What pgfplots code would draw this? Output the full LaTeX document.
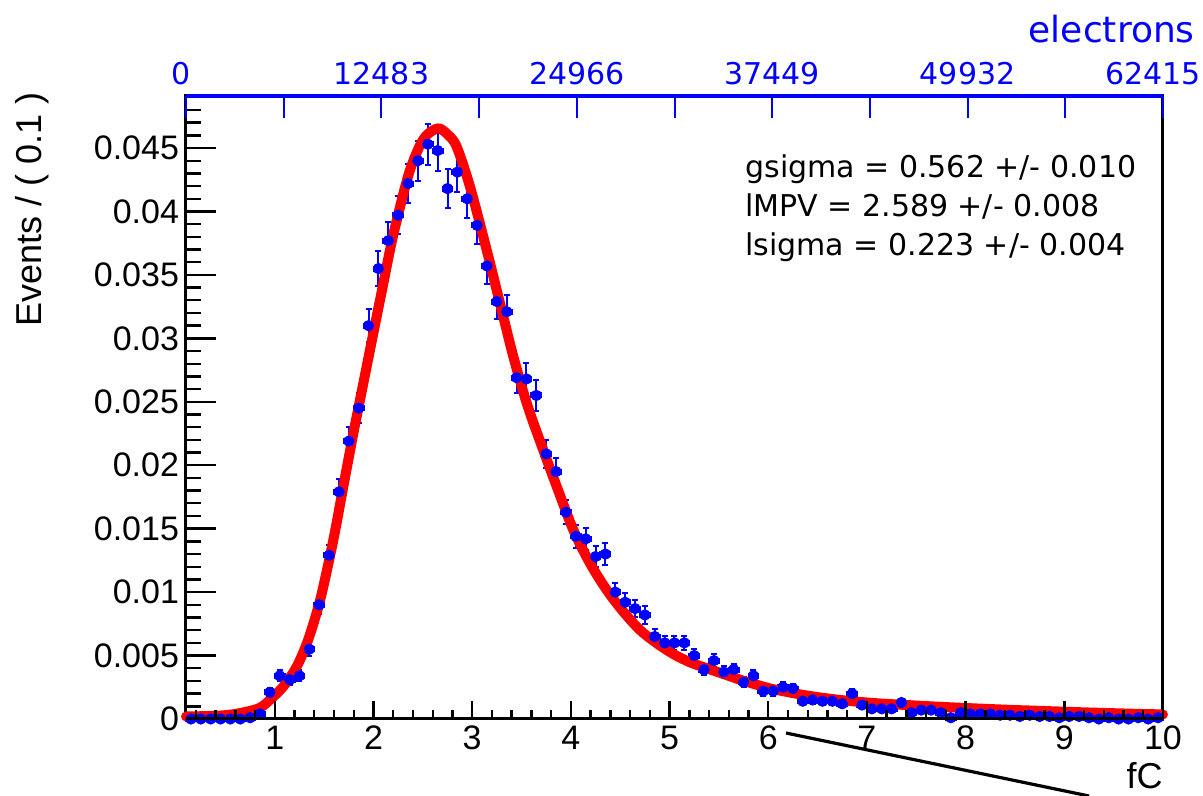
\documentclass[border=0pt]{standalone}
\usepackage{fontspec}
\setmainfont{Liberation Sans}
\newfontfamily\dejavu{DejaVu Sans}
\usepackage{pgfplots}
\pgfplotsset{compat=1.18}
\usepackage{pgfplotstable}

\pgfplotstableread{
x y e
0.15 0 0
0.25 0 0
0.35 0 0
0.45 0 0
0.55 0 0
0.65 0 0
0.75 0.0001 0.00008
0.85 0.0004 0.00015
0.95 0.0021 0.00034
1.05 0.0034 0.00044
1.15 0.0031 0.00042
1.25 0.0034 0.00044
1.35 0.0055 0.00056
1.45 0.0090 0.00071
1.55 0.0129 0.00085
1.65 0.0179 0.00100
1.75 0.0219 0.00111
1.85 0.0245 0.00117
1.95 0.0310 0.00132
2.05 0.0355 0.00141
2.15 0.0377 0.00146
2.25 0.0397 0.00149
2.35 0.0422 0.00154
2.45 0.0440 0.00157
2.55 0.0453 0.00160
2.65 0.0448 0.00159
2.75 0.0418 0.00153
2.85 0.0431 0.00156
2.95 0.0410 0.00152
3.05 0.0389 0.00148
3.15 0.0357 0.00142
3.25 0.0329 0.00136
3.35 0.0321 0.00134
3.45 0.0269 0.00123
3.55 0.0268 0.00123
3.65 0.0255 0.00120
3.75 0.0209 0.00108
3.85 0.0195 0.00105
3.95 0.0163 0.00096
4.05 0.0144 0.00090
4.15 0.0142 0.00089
4.25 0.0128 0.00085
4.35 0.0130 0.00086
4.45 0.0100 0.00075
4.55 0.0092 0.00072
4.65 0.0087 0.00070
4.75 0.0082 0.00068
4.85 0.0065 0.00060
4.95 0.0060 0.00058
5.05 0.0060 0.00058
5.15 0.0060 0.00058
5.25 0.0050 0.00053
5.35 0.0039 0.00047
5.45 0.0046 0.00051
5.55 0.0037 0.00046
5.65 0.0039 0.00047
5.75 0.0029 0.00040
5.85 0.0034 0.00044
5.95 0.0022 0.00035
6.05 0.0022 0.00035
6.15 0.0025 0.00038
6.25 0.0024 0.00037
6.35 0.0014 0.00028
6.45 0.0015 0.00029
6.55 0.0014 0.00028
6.65 0.0014 0.00028
6.75 0.0012 0.00026
6.85 0.0020 0.00034
6.95 0.0011 0.00025
7.05 0.0008 0.00021
7.15 0.0008 0.00021
7.25 0.0008 0.00021
7.35 0.0013 0.00027
7.45 0.0005 0.00017
7.55 0.0007 0.00020
7.65 0.0007 0.00020
7.75 0.0005 0.00017
7.85 0.0001 0.00008
7.95 0.0005 0.00017
8.05 0.0004 0.00015
8.15 0.0004 0.00015
8.25 0.0004 0.00015
8.35 0.0003 0.00013
8.45 0.0003 0.00013
8.55 0.0002 0.00011
8.65 0.0003 0.00013
8.75 0.0002 0.00011
8.85 0.0002 0.00011
8.95 0.0001 0.00008
9.05 0.0002 0.00011
9.15 0.0002 0.00011
9.25 0.0001 0.00008
9.35 0.0000 0.00005
9.45 0.0001 0.00008
9.55 0.0000 0.00005
9.65 0.0000 0.00005
9.75 0.0001 0.00008
9.85 0.0000 0.00005
9.95 0.0001 0.00008
}\datatable

\pgfplotstableread{
x y
0.10 0.00020
0.40 0.00025
0.60 0.00040
0.84 0.00085
0.97 0.00165
1.09 0.00260
1.22 0.00410
1.336 0.00620
1.46 0.00940
1.593 0.01411
1.694 0.01831
1.796 0.02252
1.897 0.02646
1.998 0.03040
2.10 0.03434
2.185 0.03762
2.286 0.04090
2.37 0.04327
2.47 0.04520
2.55 0.04610
2.66 0.04655
2.76 0.04600
2.843 0.04510
2.978 0.04195
3.147 0.03696
3.282 0.03276
3.417 0.02856
3.553 0.02488
3.687 0.02190
3.857 0.01831
4.025 0.01490
4.194 0.01227
4.363 0.01017
4.531 0.00846
4.701 0.00701
4.870 0.00597
5.038 0.00512
5.207 0.00447
5.376 0.00400
5.545 0.00355
5.714 0.00310
5.883 0.00270
6.051 0.00235
6.39 0.00185
6.727 0.00150
7.065 0.00126
7.403 0.00110
7.74 0.00096
8.078 0.00084
8.416 0.00073
8.754 0.00064
9.091 0.00055
9.43 0.00047
9.767 0.00040
10.0 0.00036
}\fittable

\newcommand\fTick{\fontsize{17pt}{20pt}\selectfont}
\newcommand\fTitle{\fontsize{18pt}{21pt}\selectfont}

\begin{document}
\begin{tikzpicture}
\useasboundingbox (-93pt,-38.5pt) rectangle (508.5pt,359.5pt);
\pgfplotsset{base/.style={width=488.5pt,height=311.5pt,scale only axis,
  at={(0pt,0pt)},anchor=south west,ymin=0,ymax=0.0491}}

% main axis: frame, y ticks, data
\begin{axis}[base, xmin=0.1, xmax=10,
  axis line style={line width=1.5pt, black},
  xtick=\empty, scaled y ticks=false,
  ytick={0,0.005,0.01,0.015,0.02,0.025,0.03,0.035,0.04,0.045},
  yticklabels={0,0.005,0.01,0.015,0.02,0.025,0.03,0.035,0.04,0.045},
  minor ytick={0.001,0.002,...,0.0485},
  ytick pos=left, tick align=inside,
  major tick length=15pt, minor tick length=7.5pt,
  every tick/.style={line width=1.2pt, black},
  yticklabel style={font=\fTick},
  clip=false]
\addplot[only marks, mark=*, mark size=2.6pt, color=blue,
  mark options={fill=blue, draw=blue},
  error bars/.cd, y dir=both, y explicit, x dir=both, x fixed=0.05,
  error bar style={line width=1pt, blue},
  error mark=-, error mark options={rotate=90, mark size=1.5pt, line width=1pt, blue}]
  table[x=x, y=y, y error=e] {\datatable};
\addplot[red, line width=5pt, smooth, line join=round, line cap=round] table[x=x,y=y] {\fittable};
\end{axis}

% bottom x ticks
\begin{axis}[base, xmin=0.1, xmax=10, hide y axis,
  axis x line*=bottom, axis line style={-, line width=1.5pt, black},
  xtick={1,2,3,4,5,6,7,8,9,10},
  xticklabels={1,2,3,4,5,6,7,8,9,10},
  minor xtick={0.2,0.4,...,9.9},
  tick align=inside,
  major tick length=9pt, minor tick length=4.5pt,
  every tick/.style={line width=1.2pt, black},
  xticklabel style={font=\fTick}]
\end{axis}

% top blue axis (electrons)
\begin{axis}[base, xmin=0, xmax=10, hide y axis,
  axis x line*=top, axis line style={-, line width=2.2pt, blue},
  xtick={0,1,2,3,4,5,6,7,8,9,10},
  xticklabels={\kern-5pt 0,,12483,,24966,,37449,,49932,,\kern-10pt 62415},
  tick align=inside, major tick length=11pt,
  every tick/.style={line width=1pt, blue},
  xticklabel style={font=\dejavu\fontsize{15pt}{18pt}\selectfont, text=blue, yshift=2pt}]
\end{axis}

\node[anchor=base east, text=blue, font=\dejavu\fTitle, inner sep=0pt] at (504.5pt,338pt) {electrons};
\node[anchor=base west, font=\dejavu\fontsize{15pt}{18pt}\selectfont, inner sep=0pt] at (279.5pt,270.5pt) {gsigma = 0.562 +/- 0.010};
\node[anchor=base west, font=\dejavu\fontsize{15pt}{18pt}\selectfont, inner sep=0pt] at (279.5pt,251pt) {lMPV = 2.589 +/- 0.008};
\node[anchor=base west, font=\dejavu\fontsize{15pt}{18pt}\selectfont, inner sep=0pt] at (279.5pt,231.5pt) {lsigma = 0.223 +/- 0.004};
\node[rotate=90, anchor=base east, font=\fTitle, inner sep=0pt] at (-72pt,313.5pt) {Events / ( 0.1 )};
\node[anchor=base east, font=\fTitle, inner sep=0pt] at (488.5pt,-35pt) {fC};
\draw[line width=1.6pt, black] (300pt,-7pt) -- (451.5pt,-38.5pt);
\end{tikzpicture}
\end{document}
